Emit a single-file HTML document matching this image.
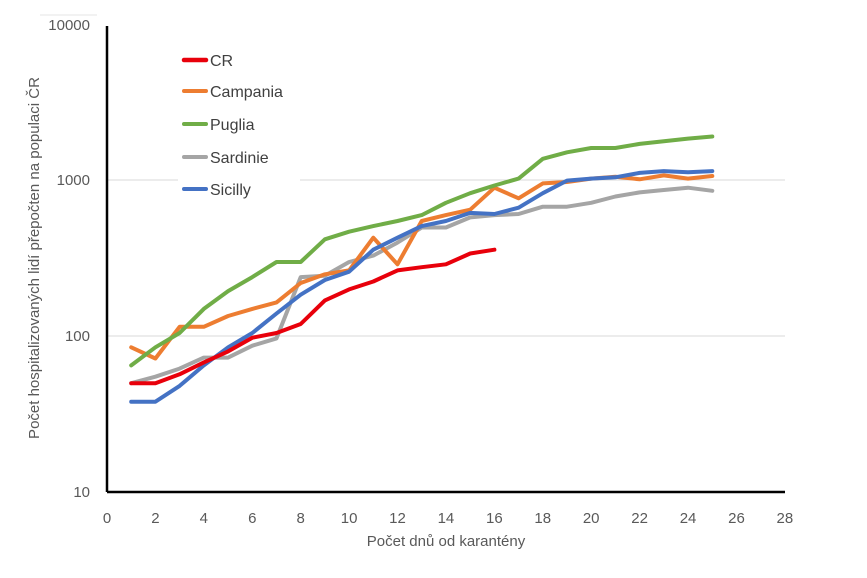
<!DOCTYPE html>
<html><head><meta charset="utf-8"><style>
body{margin:0;background:#fff;}
svg{display:block;font-family:"Liberation Sans",sans-serif;}
</style></head><body>
<svg id="s" width="867" height="578" viewBox="0 0 867 578">
<line x1="40" y1="15" x2="97" y2="15" stroke="#e4e4e4" stroke-width="1"/>
<line x1="107" y1="180" x2="178" y2="180" stroke="#d9d9d9" stroke-width="1"/>
<line x1="300" y1="180" x2="785" y2="180" stroke="#d9d9d9" stroke-width="1"/>
<line x1="107" y1="336" x2="785" y2="336" stroke="#d9d9d9" stroke-width="1"/>
<g fill="#595959" font-size="15" text-anchor="end">
<text x="90" y="30">10000</text><text x="90" y="185">1000</text><text x="90" y="341">100</text><text x="90" y="497">10</text>
</g>
<g id="xt" fill="#595959" font-size="15" text-anchor="middle"></g>
<text x="446" y="546" fill="#595959" font-size="15" text-anchor="middle">Počet dnů od karantény</text>
<text transform="translate(39,258) rotate(-90)" fill="#595959" font-size="15" text-anchor="middle">Počet hospitalizovaných lidí přepočten na populaci ČR</text>
<g id="series" fill="none" stroke-width="4" stroke-linejoin="round" stroke-linecap="round"></g>
<line x1="107" y1="26" x2="107" y2="492" stroke="#000" stroke-width="2.5"/>
<line x1="107" y1="492" x2="785" y2="492" stroke="#000" stroke-width="2.5"/>
<g font-size="16" fill="#404040">
<line x1="184" y1="60" x2="206" y2="60" stroke="#e8000b" stroke-width="4.5" stroke-linecap="round"/><text x="210" y="66">CR</text>
<line x1="184" y1="91" x2="206" y2="91" stroke="#ed7d31" stroke-width="4" stroke-linecap="round"/><text x="210" y="97">Campania</text>
<line x1="184" y1="124" x2="206" y2="124" stroke="#70ad47" stroke-width="4" stroke-linecap="round"/><text x="210" y="130">Puglia</text>
<line x1="184" y1="157" x2="206" y2="157" stroke="#a5a5a5" stroke-width="4" stroke-linecap="round"/><text x="210" y="163">Sardinie</text>
<line x1="184" y1="189" x2="206" y2="189" stroke="#4472c4" stroke-width="4" stroke-linecap="round"/><text x="210" y="195">Sicilly</text>
</g>
</svg>
<script>
var ns="http://www.w3.org/2000/svg";
function X(d){return 107+24.21*d;}
function Y(v){return 492-155.7*Math.log10(v/10);}
var xt=document.getElementById("xt");
for(var i=0;i<=28;i+=2){var t=document.createElementNS(ns,"text");t.setAttribute("x",X(i));t.setAttribute("y",523);t.textContent=i;xt.appendChild(t);}
var S=[
["#a5a5a5",[50,55,62,73,73,87,97,240,245,300,330,400,500,500,580,600,610,680,680,720,790,840,870,900,860]],
["#ed7d31",[85,72,115,115,135,150,165,220,250,265,430,290,550,600,650,900,770,960,980,1030,1060,1020,1080,1030,1070]],
["#70ad47",[65,85,105,150,195,240,300,300,420,470,510,550,600,720,830,930,1030,1380,1520,1620,1620,1720,1790,1860,1920]],
["#4472c4",[38,38,48,65,85,105,140,185,230,260,360,430,510,550,620,610,670,830,1000,1030,1050,1120,1150,1130,1150]],
["#e8000b",[50,50,57,68,80,98,105,120,170,200,225,265,278,290,340,360]]
];
var g=document.getElementById("series");
S.forEach(function(s){var p=document.createElementNS(ns,"polyline");
p.setAttribute("points",s[1].map(function(v,i){return X(i+1).toFixed(1)+","+Y(v).toFixed(1);}).join(" "));
p.setAttribute("stroke",s[0]);g.appendChild(p);});
</script>
</body></html>
